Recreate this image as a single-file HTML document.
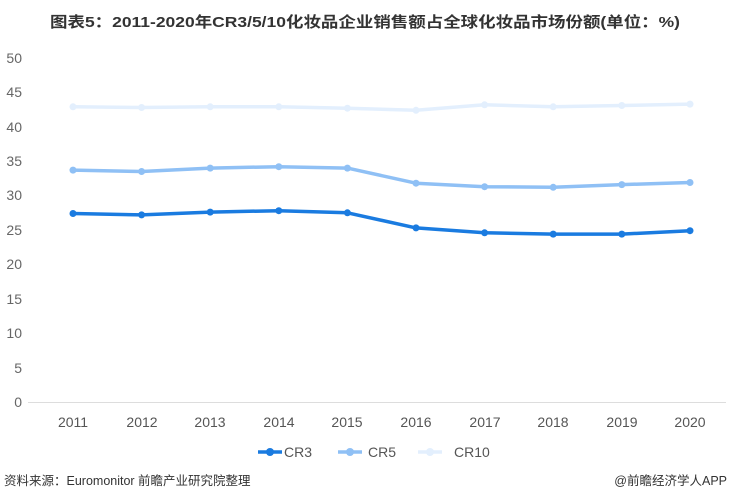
<!DOCTYPE html>
<html><head><meta charset="utf-8"><style>
body{margin:0;background:#fff;}
svg{display:block;font-family:"Liberation Sans","Noto Sans CJK SC",sans-serif;}
</style></head><body>
<svg width="730" height="501" viewBox="0 0 730 501">
<text x="50" y="27" font-size="15" font-weight="bold" fill="#333" textLength="630" lengthAdjust="spacingAndGlyphs">图表5：2011-2020年CR3/5/10化妆品企业销售额占全球化妆品市场份额(单位：%)</text>
<g font-size="14" fill="#666" text-anchor="end">
<text x="22" y="63">50</text><text x="22" y="97">45</text><text x="22" y="132">40</text>
<text x="22" y="166">35</text><text x="22" y="200">30</text><text x="22" y="235">25</text>
<text x="22" y="269">20</text><text x="22" y="304">15</text><text x="22" y="338">10</text>
<text x="22" y="373">5</text><text x="22" y="407">0</text>
</g>
<line x1="28" y1="402.5" x2="726" y2="402.5" stroke="#ddd" stroke-width="1"/>
<g font-size="14" fill="#555" text-anchor="middle">
<text x="73" y="427">2011</text><text x="142" y="427">2012</text><text x="210" y="427">2013</text>
<text x="279" y="427">2014</text><text x="347" y="427">2015</text><text x="416" y="427">2016</text>
<text x="485" y="427">2017</text><text x="553" y="427">2018</text><text x="622" y="427">2019</text>
<text x="690" y="427">2020</text>
</g>
<g fill="none" stroke-width="3.5" stroke-linejoin="round" stroke-linecap="round">
<polyline stroke="#e3effd" points="73,106.8 141.6,107.5 210.2,106.8 278.8,106.8 347.4,108.2 416,110.3 484.6,104.8 553.2,106.8 621.8,105.5 690,104.1"/>
<polyline stroke="#8fc0f5" points="73,170.1 141.6,171.5 210.2,168.1 278.8,166.7 347.4,168.1 416,183.2 484.6,186.7 553.2,187.3 621.8,184.6 690,182.5"/>
<polyline stroke="#1a7be0" points="73,213.5 141.6,214.9 210.2,212.1 278.8,210.7 347.4,212.8 416,227.9 484.6,232.8 553.2,234.1 621.8,234.1 690,230.7"/>
</g>
<g>
<g fill="#e3effd"><circle cx="73" cy="106.8" r="3.5"/><circle cx="141.6" cy="107.5" r="3.5"/><circle cx="210.2" cy="106.8" r="3.5"/><circle cx="278.8" cy="106.8" r="3.5"/><circle cx="347.4" cy="108.2" r="3.5"/><circle cx="416" cy="110.3" r="3.5"/><circle cx="484.6" cy="104.8" r="3.5"/><circle cx="553.2" cy="106.8" r="3.5"/><circle cx="621.8" cy="105.5" r="3.5"/><circle cx="690" cy="104.1" r="3.5"/></g>
<g fill="#8fc0f5"><circle cx="73" cy="170.1" r="3.5"/><circle cx="141.6" cy="171.5" r="3.5"/><circle cx="210.2" cy="168.1" r="3.5"/><circle cx="278.8" cy="166.7" r="3.5"/><circle cx="347.4" cy="168.1" r="3.5"/><circle cx="416" cy="183.2" r="3.5"/><circle cx="484.6" cy="186.7" r="3.5"/><circle cx="553.2" cy="187.3" r="3.5"/><circle cx="621.8" cy="184.6" r="3.5"/><circle cx="690" cy="182.5" r="3.5"/></g>
<g fill="#1a7be0"><circle cx="73" cy="213.5" r="3.5"/><circle cx="141.6" cy="214.9" r="3.5"/><circle cx="210.2" cy="212.1" r="3.5"/><circle cx="278.8" cy="210.7" r="3.5"/><circle cx="347.4" cy="212.8" r="3.5"/><circle cx="416" cy="227.9" r="3.5"/><circle cx="484.6" cy="232.8" r="3.5"/><circle cx="553.2" cy="234.1" r="3.5"/><circle cx="621.8" cy="234.1" r="3.5"/><circle cx="690" cy="230.7" r="3.5"/></g>
</g>
<g font-size="14" fill="#555">
<line x1="258" y1="452" x2="282" y2="452" stroke="#1a7be0" stroke-width="3.5"/><circle cx="270" cy="452" r="4" fill="#1a7be0"/>
<text x="284" y="457">CR3</text>
<line x1="338" y1="452" x2="362" y2="452" stroke="#8fc0f5" stroke-width="3.5"/><circle cx="350" cy="452" r="4" fill="#8fc0f5"/>
<text x="368" y="457">CR5</text>
<line x1="418" y1="452" x2="442" y2="452" stroke="#e3effd" stroke-width="3.5"/><circle cx="430" cy="452" r="4" fill="#e3effd"/>
<text x="454" y="457">CR10</text>
</g>
<text x="4" y="485" font-size="12.5" fill="#333">资料来源：Euromonitor 前瞻产业研究院整理</text>
<text x="727" y="485" font-size="12.5" fill="#333" text-anchor="end">@前瞻经济学人APP</text>
</svg>
</body></html>
